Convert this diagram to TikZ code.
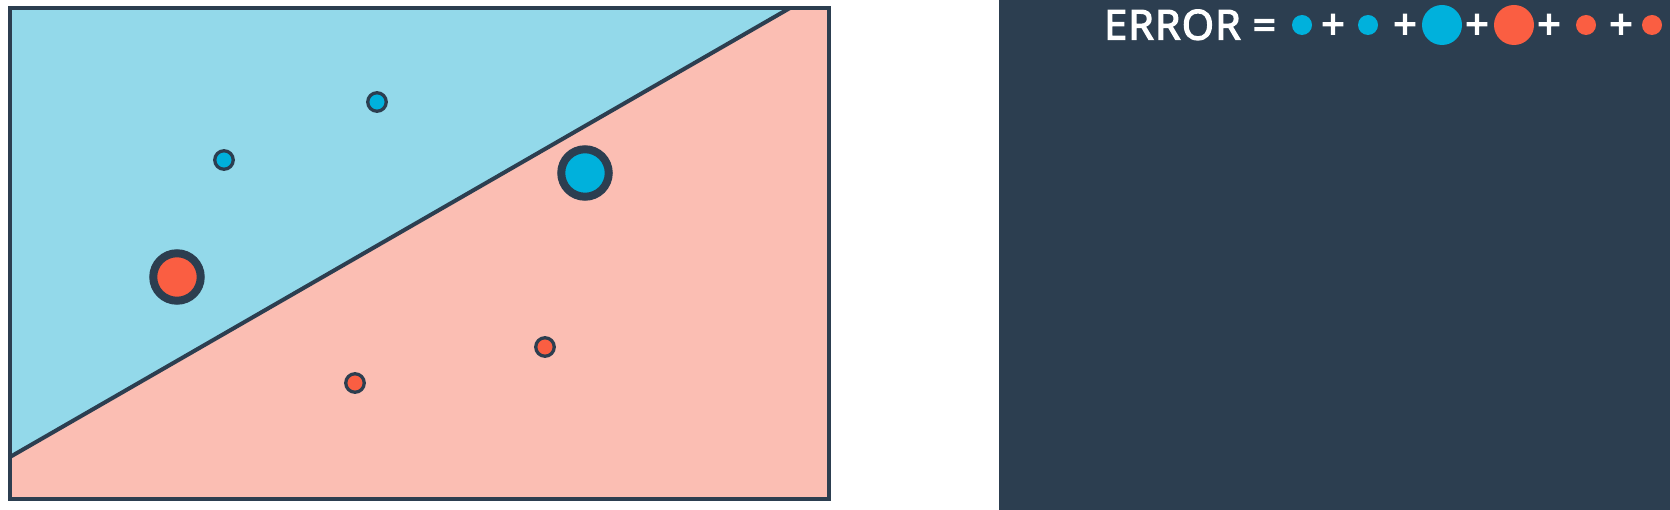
\documentclass[tikz,border=0pt]{standalone}
\usepackage{fontspec}
\setmainfont{Open Sans}
\newfontface\semibold{Open Sans}[FakeBold=3.5,LetterSpace=3.5]
\usepackage{tikz}
\usetikzlibrary{positioning}

\definecolor{ink}{HTML}{2C3E50}
\definecolor{skyfill}{HTML}{93D9EA}
\definecolor{pinkfill}{HTML}{FBBEB3}
\definecolor{bluedot}{HTML}{00B1DC}
\definecolor{reddot}{HTML}{FA5E42}

\begin{document}
\begin{tikzpicture}[x=1pt,y=-1pt,
  pt/.style={circle,draw=ink,line width=3.3pt,minimum size=18.5pt,inner sep=0pt},
  bigpt/.style={circle,draw=ink,line width=8pt,minimum size=47.5pt,inner sep=0pt},
  term/.style={circle,inner sep=0pt,minimum size=20pt},
  bigterm/.style={circle,inner sep=0pt,minimum size=40pt},
  plus/.style={text=white,font=\fontsize{41}{41}\semibold,inner sep=0pt}]
\useasboundingbox (0,0) rectangle (1670,510);
\fill[white] (0,0) rectangle (1670,510);
% left panel
\coordinate (tl) at (10,8);
\coordinate (tr) at (829,8);
\coordinate (br) at (829,499);
\coordinate (bl) at (10,499);
\coordinate (cutl) at (10,457);
\coordinate (cutt) at (790,8);
\fill[skyfill] (tl) -- (cutt) -- (cutl) -- cycle;
\fill[pinkfill] (cutt) -- (tr) -- (br) -- (bl) -- (cutl) -- cycle;
\draw[ink,line width=4pt] (cutl) -- (cutt);
\draw[ink,line width=4pt] (tl) rectangle (br);
\node[pt,fill=bluedot] (b0) at (377,102) {};
\node[pt,fill=bluedot] (b1) at (224,160) {};
\node[bigpt,fill=bluedot] (b2) at (585,173) {};
\node[bigpt,fill=reddot] (r0) at (177,277) {};
\node[pt,fill=reddot] (r1) at (545,347) {};
\node[pt,fill=reddot] (r2) at (355,383) {};
% right panel
\fill[ink] (999,0) rectangle (1670,510);
\node[plus,anchor=base west] (err) at (1104,39.5) {ERROR =};
\node[term,fill=bluedot] (e0) at (1302,25) {};
\node[plus] (p0) at (1333,26.5) {+};
\node[term,fill=bluedot] (e1) at (1368,25) {};
\node[plus] (p1) at (1405,26.5) {+};
\node[bigterm,fill=bluedot] (e2) at (1442,25) {};
\node[plus] (p2) at (1477,26.5) {+};
\node[bigterm,fill=reddot] (e3) at (1514,25) {};
\node[plus] (p3) at (1549,26.5) {+};
\node[term,fill=reddot] (e4) at (1586,25) {};
\node[plus] (p4) at (1621,26.5) {+};
\node[term,fill=reddot] (e5) at (1652,25) {};
\end{tikzpicture}
\end{document}
